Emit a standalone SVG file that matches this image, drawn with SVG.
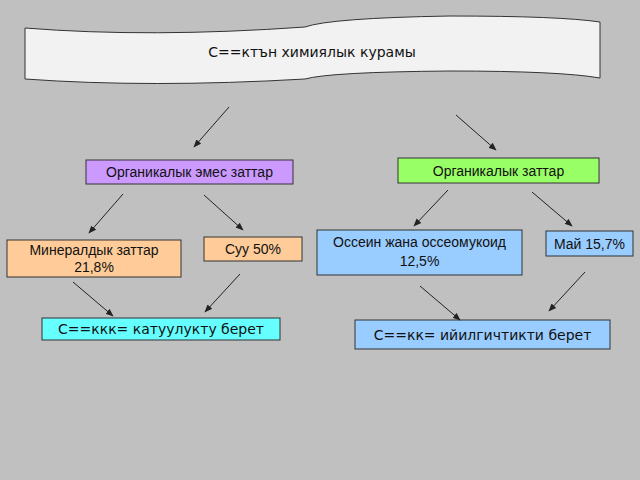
<svg xmlns="http://www.w3.org/2000/svg" width="640" height="480" viewBox="0 0 640 480">
<style>
.b{stroke:#333;stroke-width:1}
.t{font-family:"Liberation Sans",Arial,sans-serif;font-size:14px;fill:#111;text-anchor:middle}
.d{font-family:"DejaVu Sans",sans-serif;font-size:14px;fill:#111;text-anchor:middle}
.c line{stroke:#222;stroke-width:1;marker-end:url(#a)}
</style>
<defs><marker id="a" viewBox="0 0 10 10" refX="9" refY="5" markerWidth="8" markerHeight="8" orient="auto"><path d="M0,1 L10,5 L0,9 z" fill="#222"/></marker></defs>
<rect width="640" height="480" fill="#c0c0c0"/>
<g id="title"><path d="M25,28 Q150,38 305,27 Q330,18 450,16 Q560,16 600,22 L600,78 Q560,71 450,71 Q330,72 305,79 Q150,88 25,79 Z" fill="#f2f2f2" class="b"/><text class="d" x="312" y="57">С==ктън химиялык курамы</text></g>
<g id="n1"><rect x="86" y="160" width="207" height="24" fill="#cc99ff" class="b"/><text class="t" x="189.5" y="177">Органикалык эмес заттар</text></g>
<g id="n2"><rect x="398" y="158" width="201" height="25" fill="#99ff66" class="b"/><text class="t" x="498.5" y="176">Органикалык заттар</text></g>
<g id="n3"><rect x="7" y="240" width="174" height="37" fill="#ffcc99" class="b"/><text class="t" x="94" y="255">Минералдык заттар</text><text class="t" x="94" y="272">21,8%</text></g>
<g id="n4"><rect x="204" y="237" width="98" height="24" fill="#ffcc99" class="b"/><text class="t" x="253" y="254">Суу 50%</text></g>
<g id="n5"><rect x="317" y="230" width="205" height="45" fill="#99ccff" class="b"/><text class="t" x="419.5" y="247">Оссеин жана оссеомукоид</text><text class="t" x="419.5" y="266">12,5%</text></g>
<g id="n6"><rect x="546" y="231" width="87" height="25" fill="#99ccff" class="b"/><text class="t" x="589.5" y="249">Май 15,7%</text></g>
<g id="n7"><rect x="42" y="318" width="238" height="22" fill="#66ffff" class="b"/><text class="d" x="161" y="334">С==ккк= катуулукту берет</text></g>
<g id="n8"><rect x="355" y="320" width="255" height="29" fill="#99ccff" class="b"/><text class="d" x="482.5" y="340">С==кк= ийилгичтикти берет</text></g>
<g class="c" id="connectors">
<line x1="229" y1="107" x2="194" y2="147"/><line x1="456" y1="115" x2="496" y2="150"/>
<line x1="123" y1="194" x2="89" y2="233"/><line x1="204" y1="195" x2="243" y2="230"/>
<line x1="73" y1="282" x2="113" y2="316"/><line x1="240" y1="274" x2="205" y2="312"/>
<line x1="448" y1="190" x2="414" y2="226"/><line x1="532" y1="192" x2="572" y2="226"/>
<line x1="420" y1="286" x2="460" y2="320"/><line x1="585" y1="272" x2="549" y2="311"/>
</g>
</svg>
